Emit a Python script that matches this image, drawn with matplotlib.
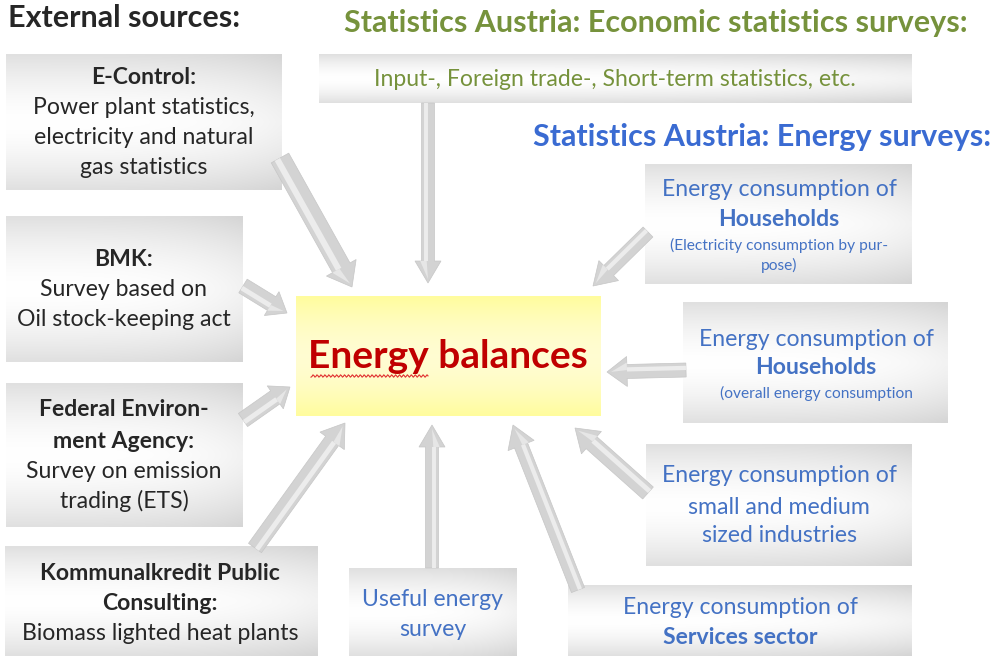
import numpy as np
import matplotlib.pyplot as plt
from matplotlib.patches import Polygon

plt.rcParams['font.family'] = ['Lato', 'DejaVu Sans']

# texts of the diagram
headings = ['External sources:',
            'Statistics Austria: Economic statistics surveys:',
            'Statistics Austria: Energy surveys:']
centre_label = 'Energy balances'

# each box: list of (text, weight, size-class)
box_econ = [('Input-, Foreign trade-, Short-term statistics, etc.', 'normal', 'm')]
box_econtrol = [('E-Control:', 'bold', 'm'), ('Power plant statistics,', 'normal', 'm'),
                ('electricity and natural', 'normal', 'm'), ('gas statistics', 'normal', 'm')]
box_bmk = [('BMK:', 'bold', 'm'), ('Survey based on', 'normal', 'm'),
           ('Oil stock-keeping act', 'normal', 'm')]
box_fed = [('Federal Environ-', 'bold', 'm'), ('ment Agency:', 'bold', 'm'),
           ('Survey on emission', 'normal', 'm'), ('trading (ETS)', 'normal', 'm')]
box_kpc = [('Kommunalkredit Public', 'bold', 'm'), ('Consulting:', 'bold', 'm'),
           ('Biomass lighted heat plants', 'normal', 'm')]
box_useful = [('Useful energy', 'normal', 'm'), ('survey', 'normal', 'm')]
box_hh1 = [('Energy consumption of', 'normal', 'm'), ('Households', 'bold', 'm'),
           ('(Electricity consumption by pur-', 'normal', 's'), ('pose)', 'normal', 's')]
box_hh2 = [('Energy consumption of', 'normal', 'm'), ('Households', 'bold', 'm'),
           ('(overall energy consumption', 'normal', 's')]
box_sme = [('Energy consumption of', 'normal', 'm'), ('small and medium', 'normal', 'm'),
           ('sized industries', 'normal', 'm')]
box_serv = [('Energy consumption of', 'normal', 'm'), ('Services sector', 'bold', 'm')]

DARK = '#262626'
GREEN = '#76923c'
BLUE = '#4472c4'
BLUE_H = '#3a6bd2'
RED = '#c00000'

fig = plt.figure(figsize=(9.94, 6.56), dpi=100)
ax = fig.add_axes([0, 0, 1, 1])


def grey_box(x0, y0, x1, y1):
    n = 64
    t = np.linspace(0, 1, n)
    v = 1 - 0.12 * (np.abs(t - 0.5) * 2) ** 1.6
    h = np.linspace(0, 1, 64)
    hh = 1 - 0.05 * h ** 4
    img = np.clip(np.outer(v, hh), 0, 1)
    rgb = np.dstack([img, img, img])
    ax.imshow(rgb, extent=(x0, x1, y1, y0), origin='upper', aspect='auto',
              interpolation='bilinear', zorder=1)


def yellow_box(x0, y0, x1, y1):
    t = np.linspace(0, 1, 64)
    b = 0.62 + 0.2 * np.sin(np.pi * t)
    rgb = np.zeros((64, 2, 3))
    rgb[:, :, 0] = 1.0
    rgb[:, :, 1] = 0.99
    rgb[:, :, 2] = b[:, None]
    ax.imshow(rgb, extent=(x0, x1, y1, y0), origin='upper', aspect='auto',
              interpolation='bilinear', zorder=1)


def arrow(x0, y0, x1, y1, w=14, hw=30, hl=22):
    d = np.array([x1 - x0, y1 - y0], float)
    L = np.hypot(*d)
    u = d / L
    n = np.array([-u[1], u[0]])
    p0 = np.array([x0, y0], float)
    p1 = np.array([x1, y1], float)
    b = p1 - u * hl
    pts = [p0 + n * w / 2, b + n * w / 2, b + n * hw / 2, p1,
           b - n * hw / 2, b - n * w / 2, p0 - n * w / 2]
    ax.add_patch(Polygon(pts, closed=True, fc='#d3d3d3', ec='#c6c6c6', lw=0.5, zorder=3))
    # light stripe for a bit of relief
    q0 = p0 + n * w * 0.15
    q1 = b + n * w * 0.15
    ax.plot([q0[0], q1[0]], [q0[1], q1[1]], color='#ececec', lw=w * 0.22, zorder=4,
            solid_capstyle='butt')
    hp = [b + n * hw * 0.3, p1 - u * 4, b + n * w * 0.1]
    ax.add_patch(Polygon(hp, closed=True, fc='#e6e6e6', ec='none', zorder=4))


def lines(items, cx, ys, color, msize=16.6, ssize=11.2):
    for (s, wt, sz), y in zip(items, ys):
        ax.text(cx, y, s, ha='center', va='center', color=color, fontweight=wt,
                fontsize=msize if sz == 'm' else ssize, zorder=5)


# arrows (drawn first, under the boxes)
arrow(280, 158, 352, 287, w=20, hw=34)
arrow(243, 286, 287, 313, w=16, hw=28, hl=18)
arrow(243, 420, 290, 387, w=16, hw=28, hl=18)
arrow(255, 548, 345, 423, w=16, hw=30)
arrow(428, 103, 428, 283, w=13, hw=26)
arrow(432, 568, 432, 425, w=13, hw=26)
arrow(578, 590, 513, 425, w=14, hw=28)
arrow(648, 493, 575, 428, w=16, hw=30)
arrow(686, 370, 607, 372, w=14, hw=30, hl=20)
arrow(648, 232, 593, 286, w=14, hw=28)

# boxes
grey_box(319, 54, 912, 103)
grey_box(6, 54, 282, 190)
grey_box(6, 216, 243, 362)
grey_box(6, 383, 243, 527)
grey_box(5, 546, 318, 656)
grey_box(349, 568, 517, 656)
grey_box(645, 164, 912, 284)
grey_box(683, 302, 948, 423)
grey_box(646, 444, 912, 566)
grey_box(568, 585, 912, 656)
yellow_box(296, 296, 601, 416)

# headings
ax.text(8, 18, headings[0], ha='left', va='center', color=DARK, fontweight='bold', fontsize=22)
ax.text(656, 23, headings[1], ha='center', va='center', color=GREEN, fontweight='bold', fontsize=22)
ax.text(762, 137, headings[2], ha='center', va='center', color=BLUE_H, fontweight='bold', fontsize=22)

# box texts
lines(box_econ, 615, [79], GREEN)
lines(box_econtrol, 144, [78, 108, 138, 167], DARK)
lines(box_bmk, 124, [260, 290, 320], DARK)
lines(box_fed, 124, [410, 441, 471, 501], DARK)
lines(box_kpc, 160, [574, 604, 634], DARK)
lines(box_useful, 433, [600, 630], BLUE)
lines(box_hh1, 779, [189, 219, 245, 265], BLUE)
lines(box_hh2, 816, [339, 368, 393], BLUE)
lines(box_sme, 779, [476, 507, 536], BLUE)
lines(box_serv, 740, [608, 638], BLUE)

# centre
ax.text(448, 356, centre_label, ha='center', va='center', color=RED, fontweight='bold',
        fontsize=28, zorder=5)
# spell-check squiggle under "Energy"
xs = np.linspace(311, 428, 120)
ax.plot(xs, 376 + 1.2 * np.sin(xs * 1.6), color='#e03030', lw=0.8, zorder=5)

ax.set_xlim(0, 994)
ax.set_ylim(656, 0)
ax.axis('off')
plt.savefig('out.png', dpi=100)
